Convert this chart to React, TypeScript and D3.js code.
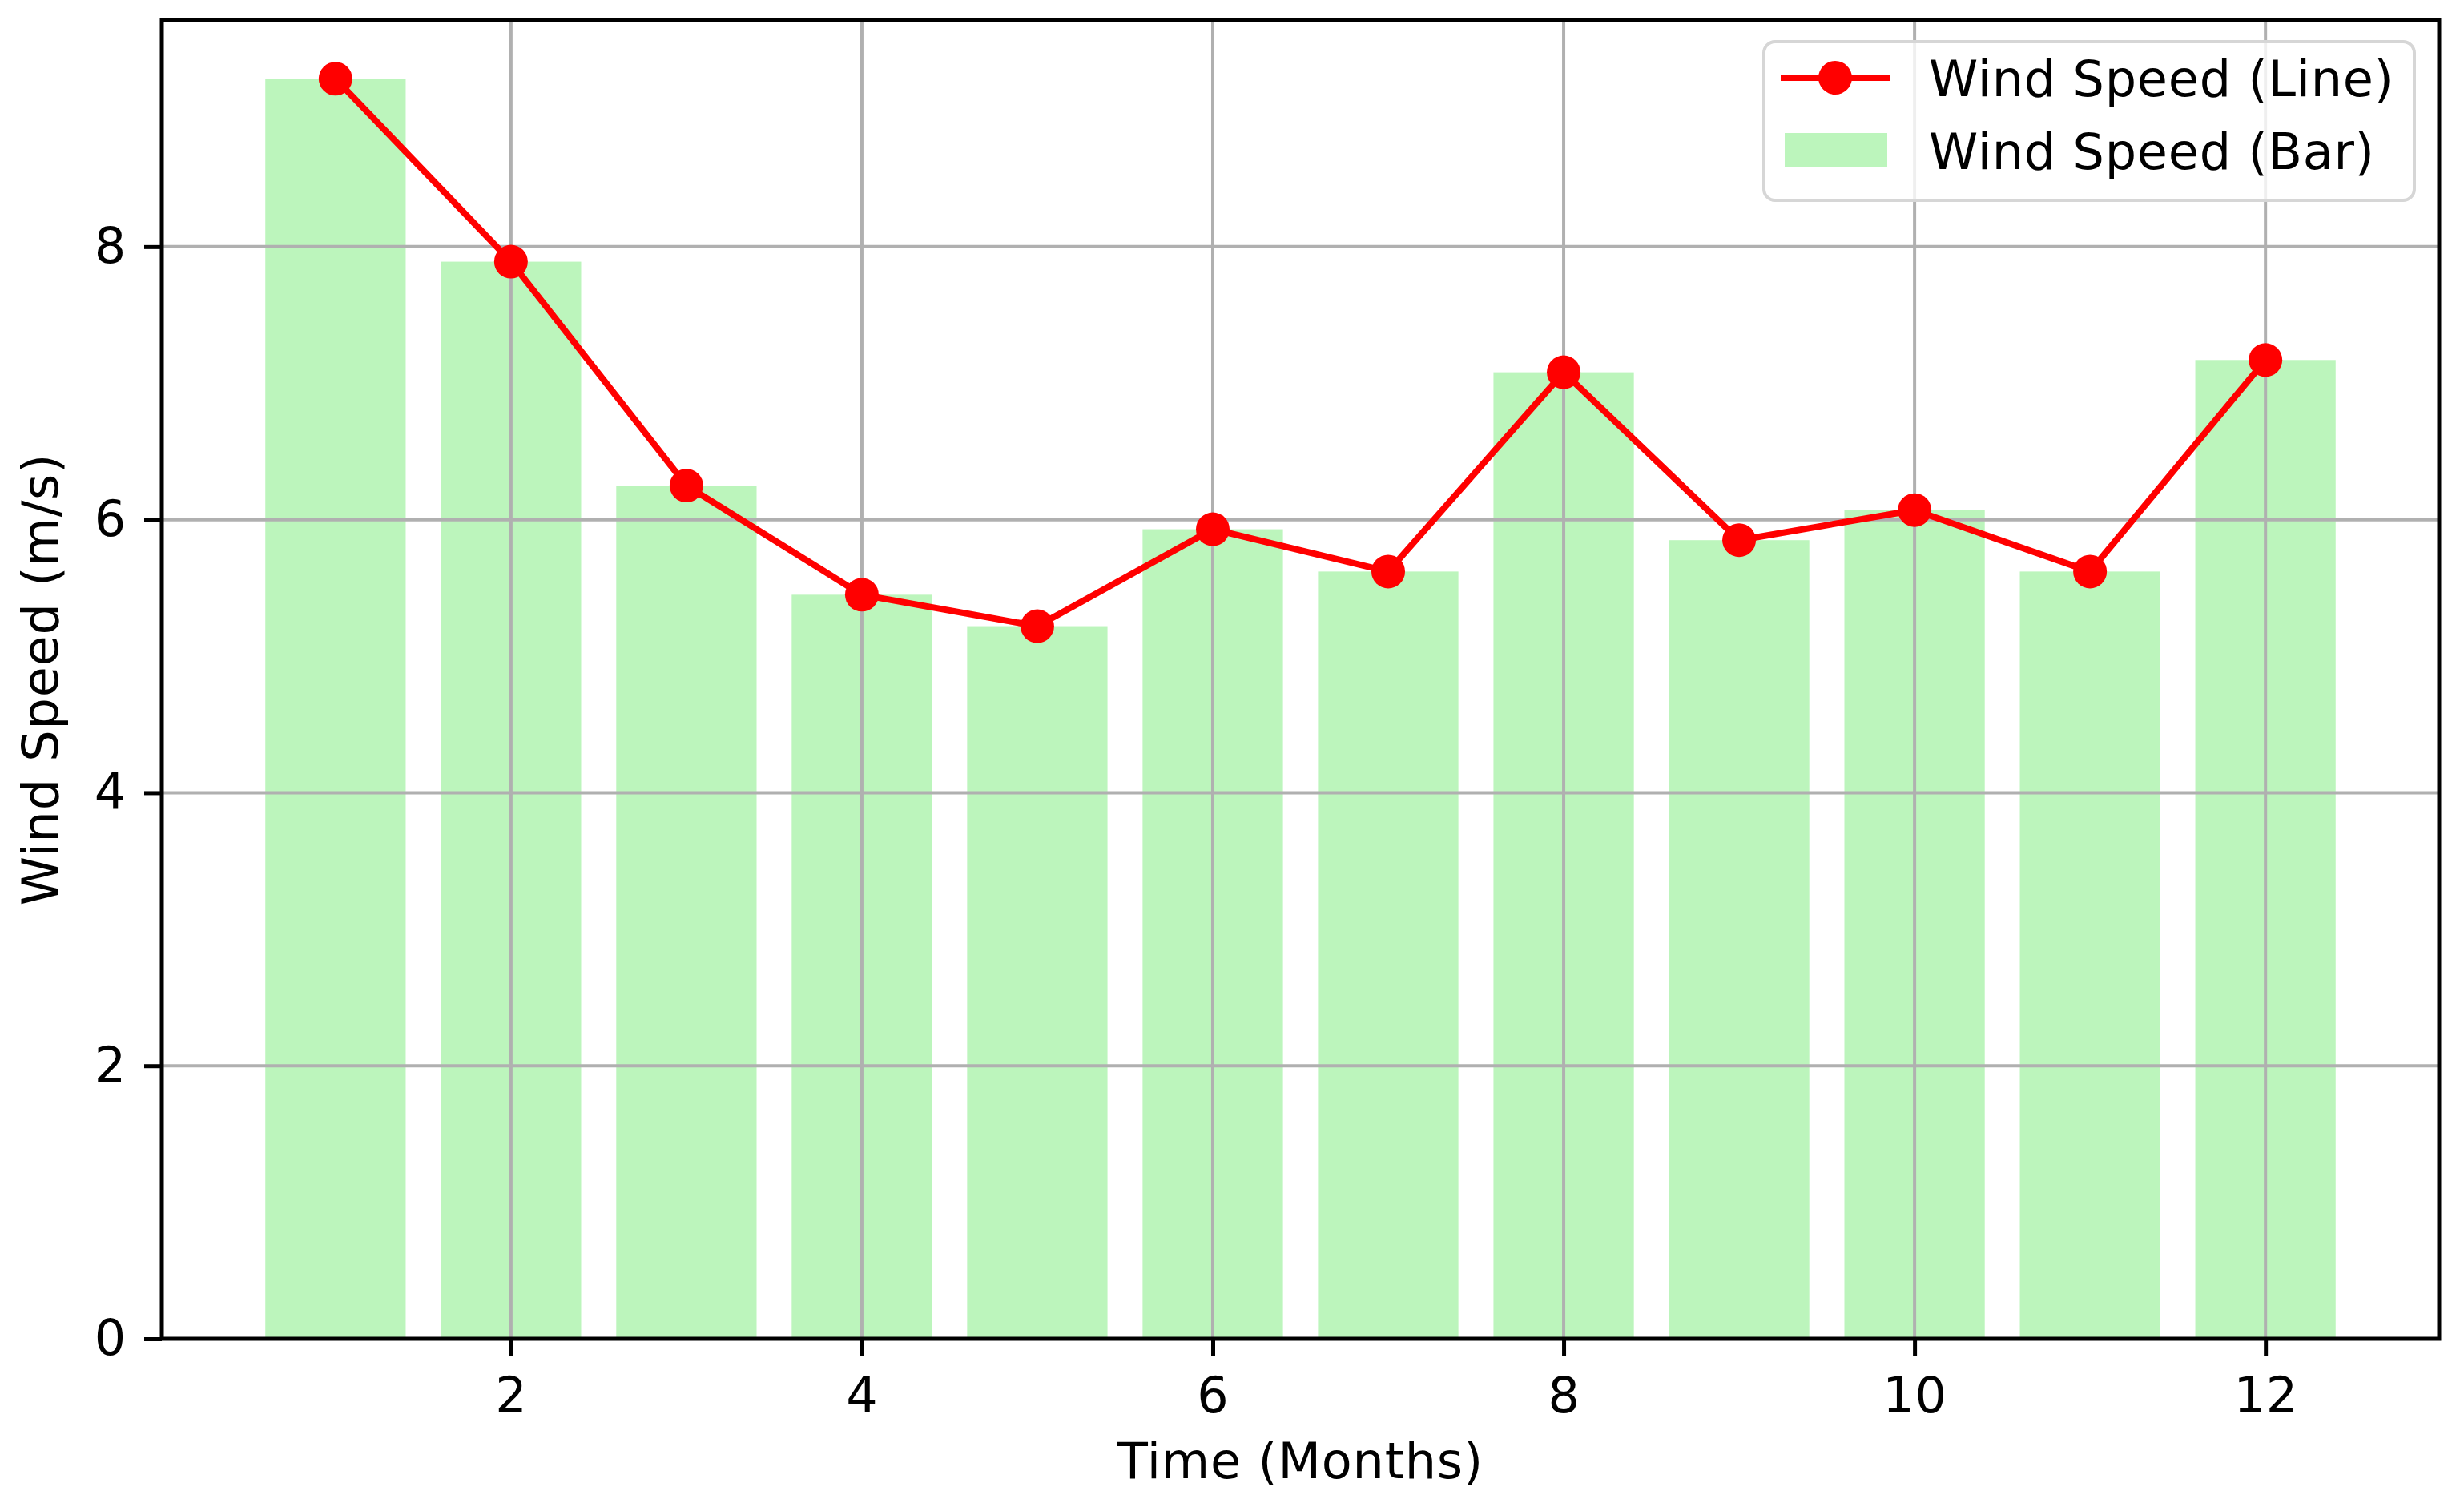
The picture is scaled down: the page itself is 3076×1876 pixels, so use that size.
import { useEffect, useRef } from "react";
import * as d3 from "d3";

const months = [1, 2, 3, 4, 5, 6, 7, 8, 9, 10, 11, 12];
const windSpeed = [9.23, 7.89, 6.25, 5.45, 5.22, 5.93, 5.62, 7.08, 5.85, 6.07, 5.62, 7.17];
const xTicks = [2, 4, 6, 8, 10, 12];
const yTicks = [0, 2, 4, 6, 8];
const legendLabels = ["Wind Speed (Line)", "Wind Speed (Bar)"];

const W = 3076;
const H = 1876;
const FONT = "DejaVu Sans, sans-serif";
const FS = 62;
const LS = "0.8px";

export default function App() {
  const svgRef = useRef<SVGSVGElement>(null);

  useEffect(() => {
    if (!svgRef.current) return;
    const left = 202;
    const right = 3045;
    const top = 25;
    const bottom = 1671;

    const x = d3.scaleLinear().domain([0.01, 12.99]).range([left, right]);
    const y = d3.scaleLinear().domain([0, 9.66]).range([bottom, top]);

    const svg = d3.select(svgRef.current);
    svg.selectAll("*").remove();
    svg.attr("viewBox", `0 0 ${W} ${H}`);

    svg.append("rect").attr("width", W).attr("height", H).attr("fill", "#fff");

    // bars
    svg
      .append("g")
      .selectAll("rect")
      .data(months)
      .enter()
      .append("rect")
      .attr("x", (m) => x(m - 0.4))
      .attr("width", (m) => x(m + 0.4) - x(m - 0.4))
      .attr("y", (_, i) => y(windSpeed[i]))
      .attr("height", (_, i) => y(0) - y(windSpeed[i]))
      .attr("fill", "lightgreen")
      .attr("fill-opacity", 0.6);

    // grid (above bars, below line)
    const grid = svg.append("g").attr("stroke", "#b0b0b0").attr("stroke-width", 4);
    grid
      .selectAll("line.v")
      .data(xTicks)
      .enter()
      .append("line")
      .attr("x1", (d) => x(d))
      .attr("x2", (d) => x(d))
      .attr("y1", top)
      .attr("y2", bottom);
    grid
      .selectAll("line.h")
      .data(yTicks)
      .enter()
      .append("line")
      .attr("x1", left)
      .attr("x2", right)
      .attr("y1", (d) => y(d))
      .attr("y2", (d) => y(d));

    // line + markers
    const line = d3
      .line<number>()
      .x((m) => x(m))
      .y((_, i) => y(windSpeed[i]));
    svg
      .append("path")
      .datum(months)
      .attr("fill", "none")
      .attr("stroke", "#ff0000")
      .attr("stroke-width", 8)
      .attr("stroke-linejoin", "round")
      .attr("d", line);
    svg
      .append("g")
      .selectAll("circle")
      .data(months)
      .enter()
      .append("circle")
      .attr("cx", (m) => x(m))
      .attr("cy", (_, i) => y(windSpeed[i]))
      .attr("r", 21)
      .attr("fill", "#ff0000");

    // axes
    const styleAxis = (g: any) => {
      g.select(".domain").remove();
      g.selectAll("line").attr("stroke", "#000").attr("stroke-width", 5);
      g.selectAll("text")
        .attr("fill", "#000")
        .attr("font-size", FS)
        .attr("letter-spacing", LS)
        .attr("font-family", FONT);
    };
    svg
      .append("g")
      .attr("transform", `translate(0,${bottom})`)
      .call(d3.axisBottom(x).tickValues(xTicks).tickSize(22).tickPadding(26).tickFormat(d3.format("d")))
      .call(styleAxis);
    svg
      .append("g")
      .attr("transform", `translate(${left},0)`)
      .call(d3.axisLeft(y).tickValues(yTicks).tickSize(22).tickPadding(22).tickFormat(d3.format("d")))
      .call(styleAxis);

    // spines
    svg
      .append("rect")
      .attr("x", left)
      .attr("y", top)
      .attr("width", right - left)
      .attr("height", bottom - top)
      .attr("fill", "none")
      .attr("stroke", "#000")
      .attr("stroke-width", 5);

    // axis labels
    svg
      .append("text")
      .attr("x", (left + right) / 2)
      .attr("y", 1845)
      .attr("text-anchor", "middle")
      .attr("font-size", FS)
      .attr("letter-spacing", LS)
      .attr("font-family", FONT)
      .text("Time (Months)");
    svg
      .append("text")
      .attr("transform", `translate(72,${(top + bottom) / 2}) rotate(-90)`)
      .attr("text-anchor", "middle")
      .attr("font-size", FS)
      .attr("letter-spacing", LS)
      .attr("font-family", FONT)
      .text("Wind Speed (m/s)");

    // legend
    const lg = svg.append("g");
    lg.append("rect")
      .attr("x", 2202)
      .attr("y", 52)
      .attr("width", 812)
      .attr("height", 198)
      .attr("rx", 14)
      .attr("fill", "#fff")
      .attr("fill-opacity", 0.8)
      .attr("stroke", "#d6d6d6")
      .attr("stroke-width", 4);
    lg.append("line")
      .attr("x1", 2223)
      .attr("x2", 2360)
      .attr("y1", 97)
      .attr("y2", 97)
      .attr("stroke", "#ff0000")
      .attr("stroke-width", 8);
    lg.append("circle").attr("cx", 2291).attr("cy", 97).attr("r", 21).attr("fill", "#ff0000");
    lg.append("rect")
      .attr("x", 2228)
      .attr("y", 166)
      .attr("width", 128)
      .attr("height", 42)
      .attr("fill", "lightgreen")
      .attr("fill-opacity", 0.6);
    lg.selectAll("text")
      .data(legendLabels)
      .enter()
      .append("text")
      .attr("x", 2408)
      .attr("y", (_, i) => 120 + i * 91)
      .attr("font-size", FS)
      .attr("letter-spacing", LS)
      .attr("font-family", FONT)
      .text((d) => d);
  }, []);

  return (
    <svg
      ref={svgRef}
      width={W}
      height={H}
      style={{ position: "absolute", left: 0, top: 0, display: "block" }}
    />
  );
}
